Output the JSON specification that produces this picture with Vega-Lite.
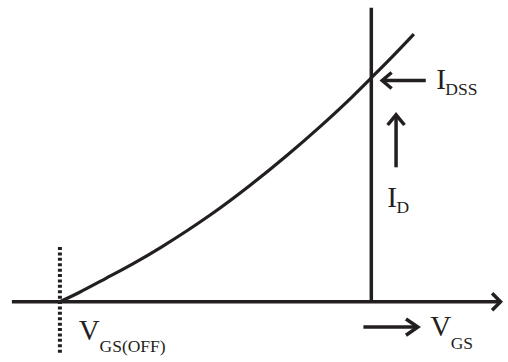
{
  "$schema": "https://vega.github.io/schema/vega-lite/v6.json",
  "width": 508,
  "height": 362,
  "autosize": {"type": "fit", "contains": "padding"},
  "padding": 0,
  "background": "white",
  "config": {"view": {"stroke": null}},
  "datasets": {
    "curve": [
      {"x": 61, "y": 54},
      {"x": 80, "y": 63.3},
      {"x": 107, "y": 77.8},
      {"x": 135, "y": 93.2},
      {"x": 163, "y": 110},
      {"x": 190, "y": 127.5},
      {"x": 213, "y": 143.4},
      {"x": 253, "y": 173.8},
      {"x": 290, "y": 204.4},
      {"x": 323, "y": 233.6},
      {"x": 357, "y": 265.8},
      {"x": 375, "y": 284},
      {"x": 397, "y": 306.6},
      {"x": 418, "y": 329}
    ],
    "lines": [
      {"id": "axis", "i": 0, "x": 12, "y": 53.7},
      {"id": "axis", "i": 1, "x": 506, "y": 53.7},
      {"id": "axishead", "i": 0, "x": 497, "y": 62.5},
      {"id": "axishead", "i": 1, "x": 505.5, "y": 53.7},
      {"id": "axishead", "i": 2, "x": 497, "y": 45},
      {"id": "vert", "i": 0, "x": 375, "y": 356},
      {"id": "vert", "i": 1, "x": 375, "y": 53.7},
      {"id": "idss", "i": 0, "x": 430, "y": 281.3},
      {"id": "idss", "i": 1, "x": 386, "y": 281.3},
      {"id": "idsshead", "i": 0, "x": 395.5, "y": 289.5},
      {"id": "idsshead", "i": 1, "x": 386, "y": 281.3},
      {"id": "idsshead", "i": 2, "x": 395.5, "y": 273},
      {"id": "id", "i": 0, "x": 400, "y": 192},
      {"id": "id", "i": 1, "x": 400, "y": 246},
      {"id": "idhead", "i": 0, "x": 391.5, "y": 235.5},
      {"id": "idhead", "i": 1, "x": 400, "y": 246},
      {"id": "idhead", "i": 2, "x": 408.5, "y": 235.5},
      {"id": "vgs", "i": 0, "x": 367, "y": 27.7},
      {"id": "vgs", "i": 1, "x": 422, "y": 27.7},
      {"id": "vgshead", "i": 0, "x": 410, "y": 36},
      {"id": "vgshead", "i": 1, "x": 422, "y": 27.7},
      {"id": "vgshead", "i": 2, "x": 410, "y": 19.3}
    ],
    "dotted": [
      {"x": 60.5, "y": 110},
      {"x": 60.5, "y": 0}
    ],
    "letters": [
      {"t": "I", "x": 440.5, "y": 272.7},
      {"t": "I", "x": 391.2, "y": 151.3},
      {"t": "V", "x": 79.5, "y": 14},
      {"t": "V", "x": 434.5, "y": 18}
    ],
    "subs": [
      {"t": "DSS", "x": 449.7, "y": 266},
      {"t": "D", "x": 400.4, "y": 144.7},
      {"t": "GS(OFF)", "x": 100.5, "y": 1.7},
      {"t": "GS", "x": 455.2, "y": 4.7}
    ]
  },
  "encoding": {
    "x": {"field": "x", "type": "quantitative", "scale": {"domain": [0, 508], "nice": false, "zero": false}, "axis": null},
    "y": {"field": "y", "type": "quantitative", "scale": {"domain": [0, 362], "nice": false, "zero": false}, "axis": null}
  },
  "layer": [
    {
      "data": {"name": "curve"},
      "mark": {"type": "line", "interpolate": "monotone", "stroke": "#231f20", "strokeWidth": 3.2},
      "encoding": {}
    },
    {
      "data": {"name": "lines"},
      "mark": {"type": "line", "stroke": "#231f20", "strokeWidth": 3.5, "strokeJoin": "miter"},
      "encoding": {
        "detail": {"field": "id"},
        "order": {"field": "i", "type": "quantitative"}
      }
    },
    {
      "data": {"name": "dotted"},
      "mark": {"type": "line", "stroke": "#231f20", "strokeWidth": 4, "strokeDash": [3, 2.4]},
      "encoding": {}
    },
    {
      "data": {"name": "letters"},
      "mark": {"type": "text", "font": "Liberation Serif", "fontSize": 29, "align": "left", "baseline": "alphabetic", "color": "#231f20"},
      "encoding": {"text": {"field": "t"}}
    },
    {
      "data": {"name": "subs"},
      "mark": {"type": "text", "font": "Liberation Serif", "fontSize": 17.5, "align": "left", "baseline": "alphabetic", "color": "#231f20"},
      "encoding": {"text": {"field": "t"}}
    }
  ]
}
